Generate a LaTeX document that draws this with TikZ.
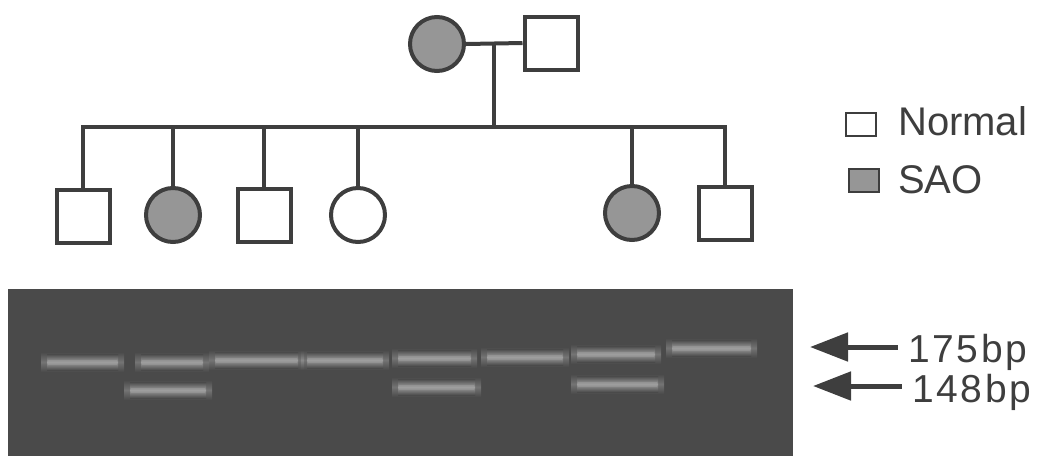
\documentclass[tikz,border=0pt]{standalone}
\usepackage{fontspec}
\setmainfont{Liberation Sans}
\usetikzlibrary{arrows.meta}
\definecolor{ink}{RGB}{62,62,62}
\definecolor{affected}{RGB}{150,150,150}
\definecolor{gelbg}{RGB}{74,74,74}
\definecolor{bandcol}{RGB}{158,158,158}
\tikzset{
  person/.style={draw=ink, line width=4pt, inner sep=0pt, fill=white},
  male/.style={person, rectangle, minimum size=53pt},
  female/.style={person, circle, minimum size=54pt},
  sao/.style={fill=affected},
  link/.style={draw=ink, line width=4pt},
  keybox/.style={draw=ink, line width=2pt, inner sep=0pt, minimum width=30pt, minimum height=23pt},
  label/.style={font=\fontsize{40}{44}\selectfont, text=ink, inner sep=0pt},
  sizelabel/.style={font=\fontsize{39}{44}\selectfont\addfontfeatures{LetterSpace=7}, text=ink, inner sep=0pt},
  marker/.style={draw=ink, line width=5pt, {Triangle[length=38pt,width=28pt]}-},
  bandglow/.style={top color=gelbg, bottom color=gelbg, middle color=bandcol},
}
% one soft gel band: #1 left, #2 right, #3 centre height
\newcommand\gelband[3]{%
  \shade[bandglow, opacity=0.5] (#1-4,#3-10) rectangle (#2+4,#3+10);
  \shade[bandglow] (#1+2,#3-8) rectangle (#2-2,#3+8);
  \fill[bandcol, opacity=0.5] (#1+3,#3-2.5) rectangle (#2-3,#3+2.5);
}
\begin{document}
\begin{tikzpicture}[x=1pt, y=-1pt]
\useasboundingbox (0,0) rectangle (1037,456);

% parents
\node[female, sao] (mother) at (437,44) {};
\node[male] (father) at (551,43) {};
\coordinate (mate) at (494,44);
\coordinate (sib) at (494,127);

% children
\node[male] (c1) at (83,216) {};
\node[female, sao] (c2) at (173,215) {};
\node[male] (c3) at (264,215) {};
\node[female] (c4) at (358,215) {};
\node[female, sao] (c5) at (632,213) {};
\node[male] (c6) at (725,213) {};

% pedigree lines
\draw[link] (mother.east) -- (father.west);
\draw[link] (mate) -- (sib);
\draw[link] (c1.north) -- (c1 |- sib) -- (c6 |- sib) -- (c6.north);
\foreach \c in {c2,c3,c4,c5} {\draw[link] (\c.north) -- (\c |- sib);}

% key
\node[keybox, fill=white] (knormal) at (861,124.5) {};
\node[keybox, fill=affected] (ksao) at (864,180.5) {};
\node[label, anchor=base west] (tnormal) at (898,135) {Normal};
\node[label, anchor=base west] (tsao) at (898,193) {SAO};

% gel
\fill[gelbg] (8,289) rectangle (793,456);
\foreach \a/\b/\y in {45/120/362, 139/205/362, 213/300/360, 305/385/360,
                      396/473/358, 485/565/357, 575/657/354, 670/753/348,
                      128/208/390, 396/477/387, 575/660/384}
  {\gelband{\a}{\b}{\y}}

% band sizes
\node[sizelabel, anchor=base west] (s175) at (908,362) {175bp};
\node[sizelabel, anchor=base west] (s148) at (912,402) {148bp};
\coordinate (p175) at (810,347);
\coordinate (p148) at (813,386);
\coordinate (e175) at (898,347);
\coordinate (e148) at (902,386);
\draw[marker] (p175) -- (e175);
\draw[marker] (p148) -- (e148);
\end{tikzpicture}
\end{document}
